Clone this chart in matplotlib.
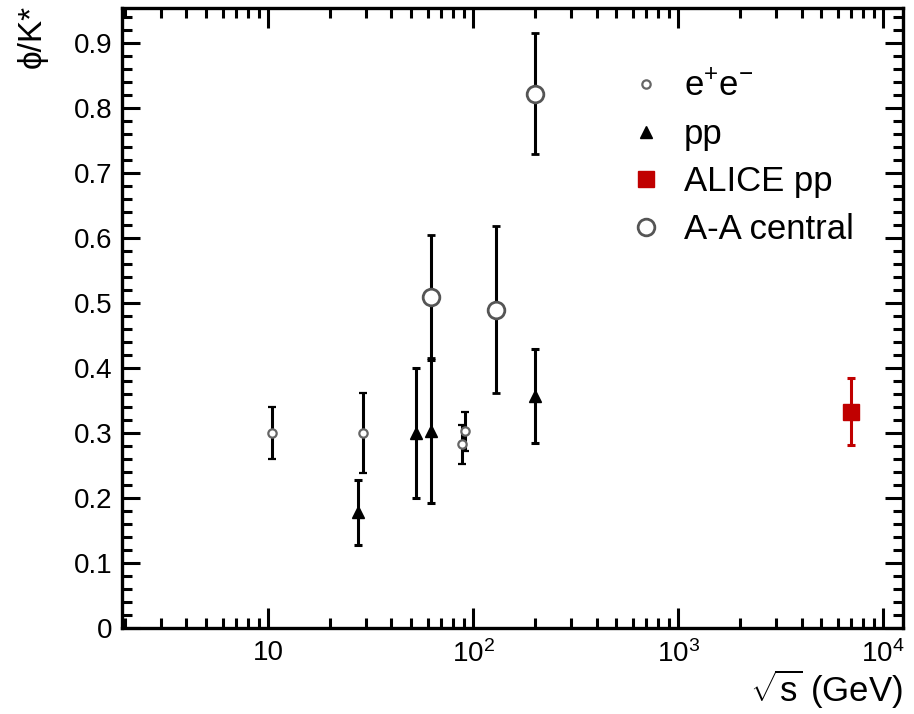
import numpy as np
import matplotlib
matplotlib.use("Agg")
import matplotlib.pyplot as plt
from matplotlib.lines import Line2D
from matplotlib.ticker import LogLocator, MultipleLocator, FixedLocator, FixedFormatter

plt.rcParams['font.family'] = ['Liberation Sans', 'DejaVu Sans']
plt.rcParams['mathtext.fontset'] = 'custom'
plt.rcParams['mathtext.rm'] = 'Liberation Sans'
plt.rcParams['mathtext.it'] = 'Liberation Sans'

# e+e- data
ee_x = [10.5, 29, 88, 91.2]
ee_y = [0.30, 0.30, 0.283, 0.303]
ee_err = [0.04, 0.062, 0.03, 0.03]

# pp data
pp_x = [27.4, 52.8, 62.4, 200]
pp_y = [0.178, 0.30, 0.303, 0.357]
pp_err = [0.05, 0.10, 0.11, 0.073]

# ALICE pp
alice_x = [7000]
alice_y = [0.333]
alice_err = [0.052]

# A-A central
aa_x = [62.4, 130, 200]
aa_y = [0.51, 0.49, 0.822]
aa_err = [0.095, 0.128, 0.093]

fig = plt.figure(figsize=(9.14, 7.14), dpi=100)
ax = fig.add_axes([122/914, 1-628/714, (903-122)/914, (628-8)/714])

eb = dict(elinewidth=2.2, capsize=3, capthick=2.2, zorder=3)
ee_st = dict(marker='o', ms=6, mfc='white', mec='#666666', mew=1.6, ls='none')
pp_st = dict(marker='^', ms=8, color='black', ls='none')
al_st = dict(marker='s', ms=12, color='#c00000', ls='none')
aa_st = dict(marker='o', ms=12, mfc='white', mec='#555555', mew=2, ls='none')

ax.errorbar(ee_x, ee_y, yerr=ee_err, ecolor='black', **ee_st, **eb)
ax.errorbar(pp_x, pp_y, yerr=pp_err, ecolor='black', **pp_st, **eb)
ax.errorbar(alice_x, alice_y, yerr=alice_err, ecolor='#c00000', **al_st, **eb)
ax.errorbar(aa_x, aa_y, yerr=aa_err, ecolor='black', **aa_st, **eb)

ax.set_xscale('log')
ax.set_xlim(1.94, 12500)
ax.set_ylim(0, 0.954)

ax.xaxis.set_major_locator(FixedLocator([10, 100, 1000, 10000]))
ax.xaxis.set_major_formatter(FixedFormatter(['10', r'10$^{2}$', r'10$^{3}$', r'10$^{4}$']))
ax.xaxis.set_minor_locator(LogLocator(base=10, subs=np.arange(2, 10)))
ax.xaxis.set_minor_formatter(plt.NullFormatter())

ax.yaxis.set_minor_locator(MultipleLocator(0.02))
ax.set_yticks(np.arange(0, 0.91, 0.1))
ax.set_yticklabels(['0'] + ['%.1f' % v for v in np.arange(0.1, 0.91, 0.1)])

ax.tick_params(which='both', direction='in', top=True, right=True, width=2.2, labelsize=20)
ax.tick_params(axis='y', which='major', length=13, pad=7)
ax.tick_params(axis='y', which='minor', length=7.5)
ax.tick_params(axis='x', which='major', length=14.5, pad=9)
ax.tick_params(axis='x', which='minor', length=7.5)
for s in ax.spines.values():
    s.set_linewidth(2.4)

fig.text(903/914, 1-711/714, r'$\sqrt{\mathrm{s}}$ (GeV)', fontsize=25, ha='right', va='bottom')
fig.text(17/914, 1-5/714, 'ϕ/K*', fontsize=24, rotation=90, ha='left', va='top')

handles = [Line2D([], [], **ee_st), Line2D([], [], **pp_st),
           Line2D([], [], **al_st), Line2D([], [], **aa_st)]
labels = [r'e$^{+}$e$^{-}$', 'pp', 'ALICE pp', 'A-A central']
fig.legend(handles, labels, loc='upper left', bbox_to_anchor=(597/914, 1-39/714), frameon=False,
           fontsize=25, handlelength=1.0, handletextpad=0.6, labelspacing=0.42, borderpad=0.4)

plt.savefig('out.png', dpi=100)
